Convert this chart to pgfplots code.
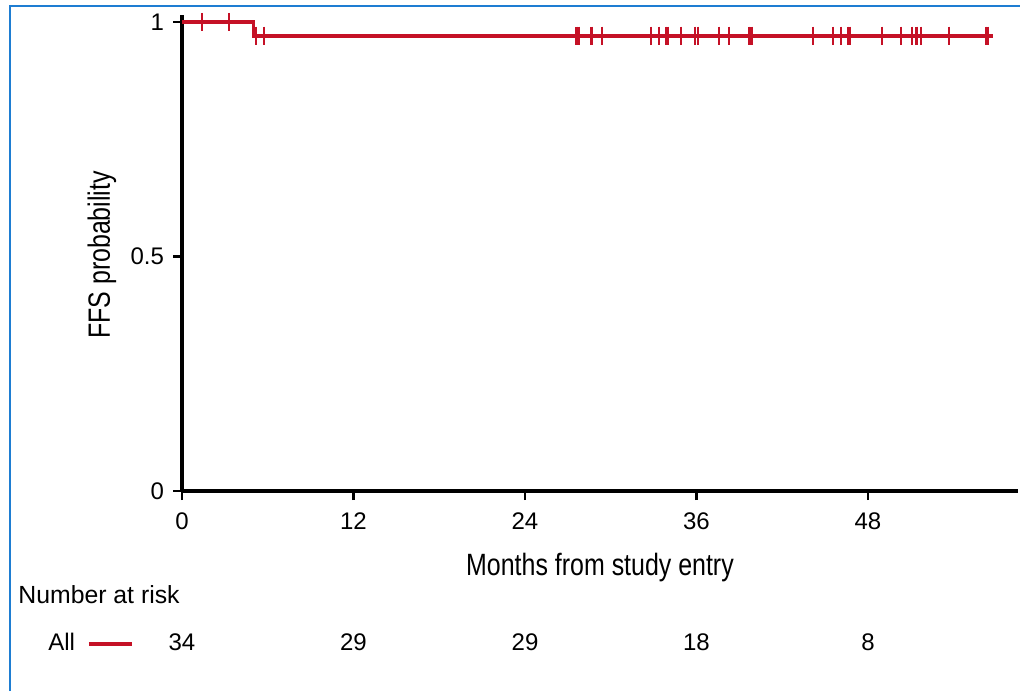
\documentclass[border=0pt]{standalone}
\usepackage{fontspec}
\setmainfont{Liberation Sans}
\newfontfamily\condfont{Liberation Sans}[FakeStretch=0.81]
\usepackage{pgfplots}
\pgfplotsset{compat=1.18}
\definecolor{kmred}{RGB}{197,17,38}
\definecolor{framblue}{RGB}{30,125,210}
\begin{document}
\begin{tikzpicture}[x=1pt,y=1pt]
\useasboundingbox (-91,-100) rectangle (419,245.5);
\draw[framblue,line width=1pt] (-86,-100) -- (-86,242.5) -- (419,242.5);
\begin{axis}[
  at={(0pt,0pt)}, anchor=origin,
  scale only axis,
  x=7.145pt, y=234.5pt,
  xmin=0, xmax=58.5, ymin=0, ymax=1.015,
  axis x line*=bottom, axis y line*=left,
  axis line style={line width=1.8pt,-},
  every tick/.style={black,line width=1.3pt},
  tick align=outside, major tick length=4.5pt,
  xtick={0,12,24,36,48}, xticklabels={0,12,24,36,48},
  ytick={0,0.5,1}, yticklabels={0,0.5,1},
  /pgf/number format/assume math mode=true,
  ticklabel style={font=\fontsize{12}{14}\selectfont},
  xticklabel shift=3pt,
  yticklabel shift=1pt,
  clip=false,
]
\addplot[kmred, line width=1.9pt] coordinates {(0,1) (5.0,1) (5.0,0.9706) (56.75,0.9706)};
\addplot[only marks, kmred, mark=|, mark size=4.6pt, mark options={line width=1.1pt}] coordinates {
(1.4,1) (3.3,1)
(5.2,0.9706) (5.75,0.9706)
(27.6,0.9706) (27.8,0.9706) (28.65,0.9706) (29.4,0.9706)
(32.8,0.9706) (33.4,0.9706) (33.85,0.9706) (34.0,0.9706) (34.9,0.9706)
(35.9,0.9706) (36.1,0.9706) (37.6,0.9706) (38.25,0.9706) (39.7,0.9706) (39.85,0.9706)
(44.15,0.9706) (45.55,0.9706) (46.1,0.9706) (46.6,0.9706) (46.75,0.9706)
(49.0,0.9706) (50.3,0.9706) (51.1,0.9706) (51.4,0.9706) (51.7,0.9706)
(53.65,0.9706) (56.25,0.9706) (56.4,0.9706)
};
\end{axis}
\node[anchor=base, font=\condfont\fontsize{15.4}{18}\selectfont] at (209,-42) {Months from study entry};
\node[anchor=base, rotate=90, font=\condfont\fontsize{15.4}{18}\selectfont] at (-36,118) {FFS probability};
\node[anchor=base west, inner sep=0pt, font=\fontsize{12.4}{15}\selectfont] at (-82,-56) {Number at risk};
\node[anchor=base west, inner sep=0pt, font=\fontsize{12}{15}\selectfont] at (-67,-79.5) {All};
\draw[kmred, line width=1.6pt] (-46.5,-76.5) -- (-25,-76.5);
\foreach \xx/\nn in {0/34, 85.7/29, 171.5/29, 257.2/18, 343/8}
  \node[anchor=base, font=\fontsize{12}{15}\selectfont] at (\xx,-79.5) {\nn};
\end{tikzpicture}
\end{document}
